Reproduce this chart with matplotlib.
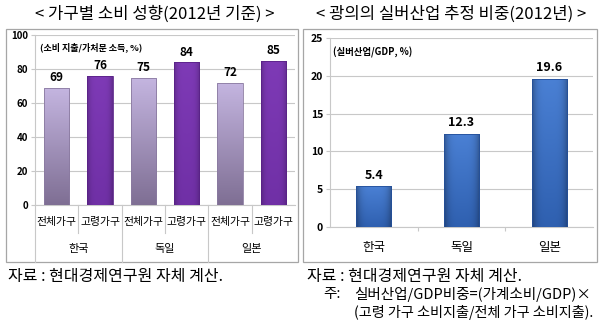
import matplotlib
matplotlib.use("Agg")
import matplotlib.pyplot as plt
import numpy as np
from matplotlib.patches import Rectangle
from matplotlib.lines import Line2D
from matplotlib.colors import LinearSegmentedColormap

plt.rcParams['font.family'] = ['Noto Sans CJK KR', 'DejaVu Sans']

# Left panel data: consumption propensity by household type
countries = ["한국", "독일", "일본"]
household_types = ["전체가구", "고령가구"]
propensity = [69, 76, 75, 84, 72, 85]

# Right panel data: silver industry share of GDP
silver_share = [5.4, 12.3, 19.6]

W, H = 600, 322
fig = plt.figure(figsize=(W / 100, H / 100), dpi=100)


def px_axes(x0, y0, x1, y1):
    return fig.add_axes([x0 / W, 1 - y1 / H, (x1 - x0) / W, (y1 - y0) / H])


def px_to_fig(x, y):
    return x / W, 1 - y / H


def shade_bars(ax, bars, top, bottom, edge, side_dark=0.0):
    """Fill each bar with a vertical gradient (optionally darker at the sides)."""
    cmap = LinearSegmentedColormap.from_list("g", [bottom, top])
    for b in bars:
        x0, w, h = b.get_x(), b.get_width(), b.get_height()
        ny, nx = 64, 32
        v = np.linspace(0, 1, ny)[:, None] * np.ones((1, nx))
        rgba = cmap(v)
        if side_dark:
            u = np.linspace(-1, 1, nx)[None, :]
            f = 1 - side_dark * u ** 4
            rgba[..., :3] *= f[..., None]
        im = ax.imshow(rgba, extent=(x0, x0 + w, 0, h), origin="lower",
                       aspect="auto", zorder=3, interpolation="bilinear")
        im.set_clip_path(b)
        b.set_facecolor("none")
        b.set_edgecolor(edge)
        b.set_linewidth(0.6)
        b.set_zorder(4)


GRID = "#c8c8c8"

# Panel frames
for (x0, y0, x1, y1) in [(6, 29, 298, 262), (303, 29, 597, 262)]:
    fx, fy = px_to_fig(x0, y1)
    fig.patches.append(Rectangle((fx, fy), (x1 - x0) / W, (y1 - y0) / H,
                                 transform=fig.transFigure, fill=False,
                                 edgecolor="#a6a6a6", linewidth=0.9))

# Titles
fig.text(*px_to_fig(155, 14), "< 가구별 소비 성향(2012년 기준) >",
         ha="center", va="center", fontsize=12)
fig.text(*px_to_fig(451, 14), "< 광의의 실버산업 추정 비중(2012년) >",
         ha="center", va="center", fontsize=12)

# ---- Left chart ----
ax1 = px_axes(35, 35, 295, 205)
xs = np.arange(len(propensity))
light_idx = xs[::2]
dark_idx = xs[1::2]
vals = np.array(propensity)
b_light = ax1.bar(light_idx, vals[light_idx], width=0.58)
b_dark = ax1.bar(dark_idx, vals[dark_idx], width=0.58)
shade_bars(ax1, b_light, "#c4b5e0", "#7f6f94", "#8a7aa0")
shade_bars(ax1, b_dark, "#7e3ab6", "#7030a6", "#5a2288", side_dark=0.22)
for x, v in zip(xs, propensity):
    ax1.text(x, v + 2, f"{v}", ha="center", va="bottom",
             fontsize=8.5, fontweight="bold")
ax1.set_xlim(-0.5, len(propensity) - 0.5)
ax1.set_ylim(0, 100)
ax1.set_yticks(range(0, 101, 20))
ax1.tick_params(axis="y", labelsize=7, length=3, color=GRID, pad=2)
for lab in ax1.get_yticklabels():
    lab.set_fontweight("bold")
ax1.set_xticks([])
ax1.yaxis.grid(True, color=GRID, linewidth=0.8, zorder=0)
ax1.set_axisbelow(True)
for s in ["top", "right"]:
    ax1.spines[s].set_visible(False)
for s in ["left", "bottom"]:
    ax1.spines[s].set_color(GRID)
ax1.text(0.02, 0.955, "(소비 지출/가처분 소득, %)", transform=ax1.transAxes,
         ha="left", va="top", fontsize=6.5, fontweight="bold")

# Category table below the left chart
slot = 260 / len(propensity)
for i in range(len(propensity)):
    xpx = 35 + i * slot
    y_end = 262 if i % 2 == 0 else 233
    fig.add_artist(Line2D([xpx / W, xpx / W], [1 - 205 / H, 1 - y_end / H],
                          color=GRID, linewidth=0.8))
for i in range(len(propensity)):
    xc = 35 + (i + 0.5) * slot
    fig.text(*px_to_fig(xc, 222), household_types[i % 2],
             ha="center", va="center", fontsize=7.8)
for j, name in enumerate(countries):
    xc = 35 + (2 * j + 1) * slot
    fig.text(*px_to_fig(xc, 249), name, ha="center", va="center", fontsize=8)

# ---- Right chart ----
ax2 = px_axes(330, 38, 593, 227)
rx = np.arange(len(silver_share))
b_blue = ax2.bar(rx, silver_share, width=0.4)
shade_bars(ax2, b_blue, "#4a80d4", "#2f60b0", "#24509a", side_dark=0.3)
for x, v in zip(rx, silver_share):
    ax2.text(x, v + 0.6, f"{v}", ha="center", va="bottom",
             fontsize=9, fontweight="bold")
ax2.set_xlim(-0.5, len(silver_share) - 0.5)
ax2.set_ylim(0, 25)
ax2.set_yticks(range(0, 26, 5))
ax2.tick_params(axis="y", labelsize=7.5, length=3, color=GRID, pad=2)
for lab in ax2.get_yticklabels():
    lab.set_fontweight("bold")
ax2.set_xticks([0.5, 1.5])
ax2.set_xticklabels([])
ax2.tick_params(axis="x", length=3, color=GRID, direction="out")
ax2.yaxis.grid(True, color=GRID, linewidth=0.8, zorder=0)
ax2.set_axisbelow(True)
for s in ["top", "right"]:
    ax2.spines[s].set_visible(False)
for s in ["left", "bottom"]:
    ax2.spines[s].set_color(GRID)
for x, name in zip(rx, countries):
    ax2.text(x, -0.11, name, transform=ax2.get_xaxis_transform(),
             ha="center", va="center", fontsize=9)
ax2.text(0.01, 0.955, "(실버산업/GDP, %)", transform=ax2.transAxes,
         ha="left", va="top", fontsize=6.8, fontweight="bold")

# Footnotes
fig.text(*px_to_fig(8, 276), "자료 : 현대경제연구원 자체 계산.",
         ha="left", va="center", fontsize=11.5)
fig.text(*px_to_fig(307, 276), "자료 : 현대경제연구원 자체 계산.",
         ha="left", va="center", fontsize=11.5)
fig.text(*px_to_fig(323, 294), "주:", ha="left", va="center", fontsize=10.5)
fig.text(*px_to_fig(354, 294), "실버산업/GDP비중=(가계소비/GDP)×",
         ha="left", va="center", fontsize=10.5)
fig.text(*px_to_fig(354, 312), "(고령 가구 소비지출/전체 가구 소비지출).",
         ha="left", va="center", fontsize=10.2)

fig.savefig("out.png", dpi=100)
